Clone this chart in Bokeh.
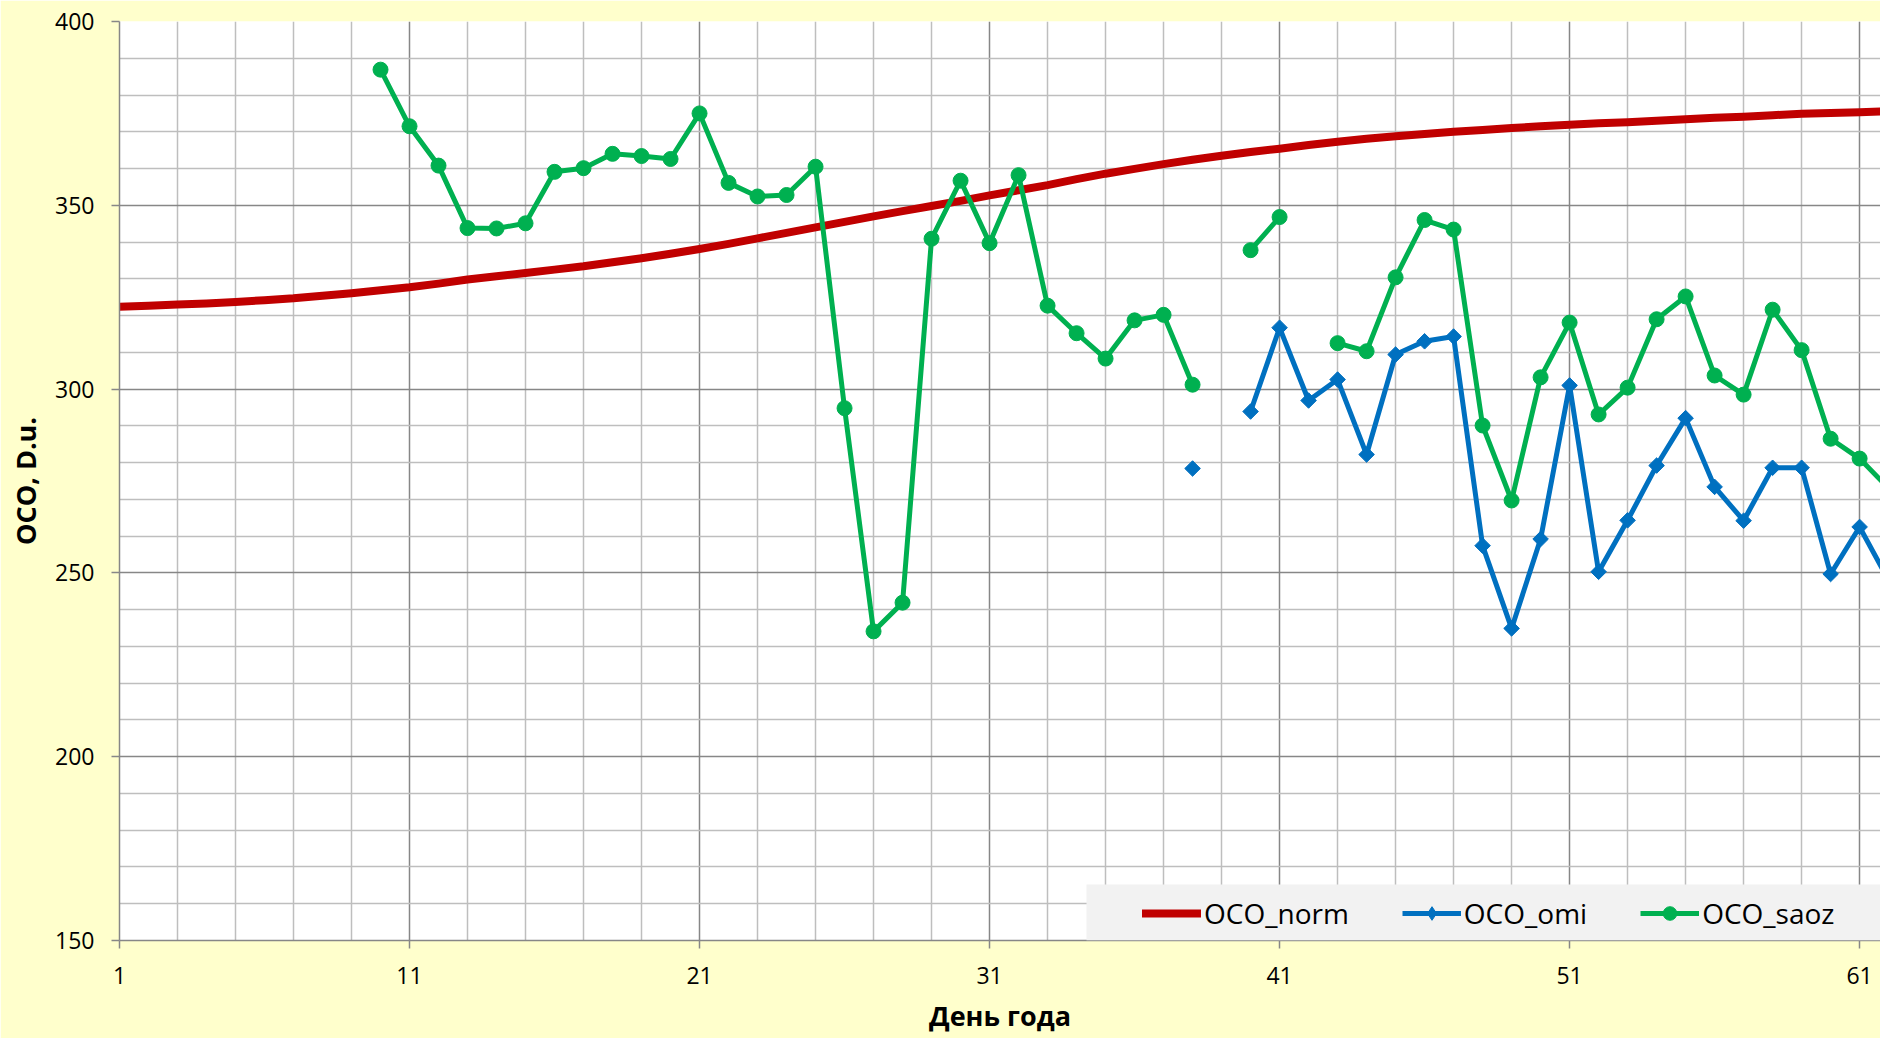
import numpy as np
from bokeh.plotting import figure
from bokeh.models import Range1d, FixedTicker, Legend, LegendItem, BoxAnnotation
from bokeh.embed import file_html
from bokeh.resources import INLINE

# ---- data ----
days = list(range(1, 63))

oco_norm = [322.4, 322.7, 323.0, 323.3, 323.7, 324.2, 324.7, 325.4, 326.1, 326.9,
            327.7, 328.7, 329.8, 330.7, 331.6, 332.5, 333.4, 334.5, 335.6, 336.8,
            338.1, 339.5, 341.0, 342.5, 344.0, 345.5, 347.0, 348.4, 349.8, 351.2,
            352.7, 354.1, 355.5, 357.1, 358.6, 359.9, 361.2, 362.4, 363.5, 364.5,
            365.4, 366.4, 367.3, 368.1, 368.8, 369.4, 370.0, 370.5, 371.0, 371.5,
            371.9, 372.3, 372.6, 373.0, 373.4, 373.8, 374.1, 374.5, 374.9, 375.1,
            375.3, 375.6]

oco_omi = [None] * 37 + [
    278.4, None, 293.9, 316.7, 296.9, 302.6, 282.2, 309.4, 313.0, 314.3,
    257.4, 234.9, 259.2, 301.0, 250.3, 264.3, 279.2, 292.1, 273.4, 264.2,
    278.6, 278.6, 249.7, 262.5, 248.0]

oco_saoz = [None] * 9 + [
    386.9, 371.5, 360.8, 343.8, 343.7, 345.1, 359.1, 360.1, 364.0, 363.4,
    362.6, 375.0, 356.1, 352.4, 352.8, 360.5, 294.8, 234.1, 241.9, 340.9,
    356.7, 339.7, 358.2, 322.7, 315.2, 308.3, 318.7, 320.2, 301.2, None,
    337.8, 346.8, None, 312.5, 310.3, 330.4, 346.0, 343.4, 290.1, 269.7,
    303.2, 318.1, 293.1, 300.4, 319.0, 325.2, 303.7, 298.5, 321.6, 310.6,
    286.5, 281.1, 273.0]

x_ticks = [1, 11, 21, 31, 41, 51, 61]
x_minor = [3, 5, 7, 9, 13, 15, 17, 19, 23, 25, 27, 29, 33, 35, 37, 39,
           43, 45, 47, 49, 53, 55, 57, 59, 63]
y_ticks = [150, 200, 250, 300, 350, 400]
y_minor = [160, 170, 180, 190, 210, 220, 230, 240, 260, 270, 280, 290,
           310, 320, 330, 340, 360, 370, 380, 390]

norm = np.array(oco_norm, dtype=float)
omi = np.array(oco_omi, dtype=float)
saoz = np.array(oco_saoz, dtype=float)

FONT = "Open Sans"
RED, BLUE, GREEN = "#C00000", "#0070C0", "#00B050"
MAJOR_GRID, MINOR_GRID = "#878787", "#BEBEBE"

p = figure(width=1880, height=1038,
           x_range=Range1d(1, 61.72), y_range=Range1d(150, 400),
           output_backend="svg", toolbar_location=None,
           min_border_left=119, min_border_right=0,
           min_border_top=21, min_border_bottom=98,
           background_fill_color="white", border_fill_color="#FFFFCC",
           outline_line_color=None)

# axes
for ax, ticks, minor in ((p.xaxis[0], x_ticks, x_minor), (p.yaxis[0], y_ticks, y_minor)):
    ax.ticker = FixedTicker(ticks=ticks, minor_ticks=minor)
    ax.major_label_text_font = FONT
    ax.major_label_text_font_size = "23px"
    ax.major_label_text_color = "black"
    ax.major_tick_in = 0
    ax.major_tick_out = 8
    ax.major_tick_line_color = MAJOR_GRID
    ax.major_tick_line_width = 1.5
    ax.minor_tick_line_color = None
    ax.axis_line_color = MAJOR_GRID
    ax.axis_line_width = 1.5
    ax.axis_label_text_font = FONT
    ax.axis_label_text_font_style = "bold"
    ax.axis_label_text_font_size = "27px"
    ax.axis_label_text_color = "black"

p.xaxis.axis_label = "День года"
p.xaxis.major_label_standoff = 18
p.xaxis.axis_label_standoff = 10
p.yaxis.axis_label = "OCO, D.u."
p.yaxis.major_label_standoff = 17
p.yaxis.axis_label_standoff = 8

for g in (p.xgrid[0], p.ygrid[0]):
    g.grid_line_color = MAJOR_GRID
    g.grid_line_width = 1.5
    g.minor_grid_line_color = MINOR_GRID
    g.minor_grid_line_width = 1.5

# series
r_norm = p.line(days, norm, line_color=RED, line_width=8, line_join="round", line_cap="round")
r_omi_l = p.line(days, omi, line_color=BLUE, line_width=5, line_join="round")
r_omi_m = p.scatter(days, omi, marker="square", angle=np.pi / 4, size=11,
                    fill_color=BLUE, line_color=BLUE)
r_saoz_l = p.line(days, saoz, line_color=GREEN, line_width=5, line_join="round")
r_saoz_m = p.scatter(days, saoz, marker="circle", size=15,
                     fill_color=GREEN, line_color=GREEN)
# legend-only diamond symbol (no visible point in the plot)
r_omi_key = p.scatter([np.nan], [np.nan], marker="diamond",
                      fill_color=BLUE, line_color=BLUE)

# legend background (screen units relative to the plot frame)
legend_bg = BoxAnnotation(left=967, right=3000, bottom=0, top=56,
                          left_units="screen", right_units="screen",
                          bottom_units="screen", top_units="screen",
                          fill_color="#F2F2F2", fill_alpha=1.0, line_color=None)
p.add_layout(legend_bg)

legend = Legend(items=[LegendItem(label="OCO_norm", renderers=[r_norm]),
                       LegendItem(label="OCO_omi", renderers=[r_omi_l, r_omi_key]),
                       LegendItem(label="OCO_saoz", renderers=[r_saoz_l, r_saoz_m])],
                orientation="horizontal", location=(1023, 8),
                padding=0, margin=0, spacing=53,
                glyph_width=59, glyph_height=34, label_standoff=3,
                label_text_font=FONT, label_text_font_size="28px",
                label_text_color="black",
                background_fill_alpha=0, border_line_alpha=0)
p.add_layout(legend)

open("out.html", "w").write(file_html(p, INLINE))
